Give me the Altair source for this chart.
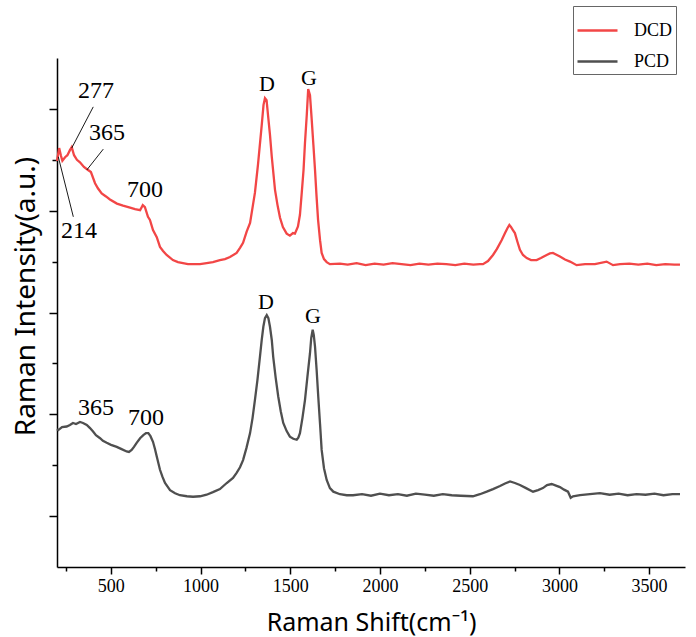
import altair as alt
import pandas as pd

# ---------------- data ----------------
dcd_shift = [200, 212, 222, 230, 245, 258, 272, 282, 295, 311, 328, 350, 373, 389, 412, 428, 449, 473, 495,
             534, 568, 607, 635, 663, 678, 690, 707, 718, 735, 756, 774, 791, 811, 846, 874, 902, 930, 958, 997,
             1034, 1069, 1108, 1136, 1164, 1201, 1220, 1237, 1257, 1276, 1292, 1303, 1320, 1341, 1351, 1359,
             1368, 1376, 1387, 1397, 1415, 1429, 1443, 1459, 1480, 1498, 1515, 1526, 1543, 1554, 1564, 1574,
             1582, 1592, 1600, 1610, 1619, 1629, 1638, 1646, 1655, 1666, 1675, 1688, 1703, 1721, 1777, 1820,
             1870, 1920, 1970, 2020, 2070, 2120, 2170, 2220, 2270, 2320, 2370, 2420, 2470, 2520, 2557, 2574,
             2602, 2630, 2652, 2678, 2697, 2711, 2721, 2730, 2741, 2752, 2766, 2780, 2797, 2818, 2842, 2873,
             2897, 2929, 2947, 2964, 2981, 3003, 3031, 3059, 3096, 3143, 3198, 3263, 3299, 3338, 3390, 3440,
             3490, 3540, 3590, 3640, 3672]
dcd_int = [7.98, 8.23, 8.08, 7.98, 8.05, 8.09, 8.19, 8.25, 8.09, 8.00, 7.95, 7.86, 7.80, 7.76, 7.54, 7.44, 7.34,
           7.28, 7.22, 7.14, 7.10, 7.06, 7.03, 7.01, 7.11, 7.07, 6.88, 6.82, 6.62, 6.48, 6.29, 6.21, 6.13, 6.03,
           5.99, 5.97, 5.95, 5.95, 5.95, 5.97, 5.99, 6.03, 6.05, 6.09, 6.17, 6.27, 6.37, 6.59, 6.76, 7.11, 7.35,
           7.90, 8.68, 9.08, 9.21, 9.17, 8.88, 8.49, 8.06, 7.41, 7.11, 6.86, 6.68, 6.55, 6.51, 6.56, 6.55, 6.69,
           6.92, 7.35, 7.80, 8.33, 8.88, 9.39, 9.27, 8.82, 8.29, 7.80, 7.31, 6.82, 6.42, 6.17, 6.05, 5.99, 5.95,
           5.96, 5.94, 5.97, 5.93, 5.96, 5.94, 5.97, 5.95, 5.93, 5.96, 5.94, 5.96, 5.95, 5.93, 5.96, 5.94, 5.95,
           5.95, 6.01, 6.13, 6.25, 6.42, 6.56, 6.66, 6.72, 6.68, 6.62, 6.56, 6.39, 6.23, 6.13, 6.07, 6.03, 6.03,
           6.07, 6.13, 6.16, 6.17, 6.14, 6.10, 6.04, 6.00, 5.93, 5.95, 5.95, 6.00, 5.93, 5.95, 5.96, 5.94, 5.96,
           5.93, 5.95, 5.94, 5.94]

pcd_shift = [200, 207, 228, 254, 272, 289, 306, 328, 345, 366, 384, 401, 417, 440, 456, 477, 501, 533, 557, 588,
             601, 616, 629, 644, 663, 681, 696, 709, 721, 735, 746, 756, 774, 788, 802, 830, 858, 885, 924, 958,
             997, 1034, 1069, 1108, 1146, 1181, 1201, 1220, 1237, 1256, 1276, 1290, 1303, 1317, 1331, 1341, 1350,
             1359, 1369, 1378, 1387, 1397, 1405, 1419, 1433, 1447, 1461, 1480, 1498, 1517, 1536, 1545, 1554,
             1568, 1582, 1596, 1610, 1617, 1625, 1631, 1638, 1647, 1656, 1666, 1675, 1688, 1703, 1721, 1740,
             1777, 1815, 1850, 1900, 1950, 2000, 2050, 2100, 2150, 2200, 2250, 2300, 2350, 2400, 2450, 2518,
             2557, 2595, 2630, 2669, 2697, 2725, 2752, 2780, 2814, 2853, 2881, 2908, 2931, 2957, 2981, 3003,
             3026, 3048, 3063, 3076, 3115, 3170, 3226, 3280, 3330, 3380, 3430, 3480, 3530, 3580, 3630, 3672]
pcd_int = [2.71, 2.69, 2.75, 2.76, 2.79, 2.83, 2.81, 2.85, 2.83, 2.79, 2.73, 2.66, 2.59, 2.53, 2.48, 2.44, 2.40,
           2.36, 2.32, 2.27, 2.26, 2.30, 2.36, 2.44, 2.53, 2.59, 2.63, 2.63, 2.57, 2.46, 2.32, 2.17, 1.91, 1.77,
           1.65, 1.51, 1.45, 1.41, 1.39, 1.38, 1.39, 1.42, 1.47, 1.53, 1.65, 1.75, 1.85, 1.96, 2.10, 2.34, 2.63,
           2.93, 3.28, 3.67, 4.13, 4.46, 4.72, 4.89, 4.95, 4.89, 4.72, 4.46, 4.13, 3.71, 3.35, 3.06, 2.83, 2.67,
           2.56, 2.52, 2.50, 2.54, 2.63, 2.93, 3.28, 3.75, 4.20, 4.50, 4.66, 4.56, 4.33, 3.87, 3.35, 2.81, 2.30,
           1.94, 1.71, 1.55, 1.48, 1.43, 1.41, 1.41, 1.43, 1.40, 1.44, 1.41, 1.43, 1.40, 1.44, 1.42, 1.40, 1.43,
           1.41, 1.40, 1.39, 1.43, 1.48, 1.53, 1.59, 1.64, 1.68, 1.65, 1.61, 1.55, 1.48, 1.51, 1.55, 1.61, 1.63,
           1.60, 1.57, 1.52, 1.48, 1.36, 1.39, 1.41, 1.43, 1.45, 1.42, 1.44, 1.41, 1.43, 1.42, 1.44, 1.41, 1.43,
           1.43]

series_names = ["DCD", "PCD"]
series_colors = ["#f24646", "#4f4f4f"]

# peak number annotations
num_text = ["277", "365", "700", "214", "365", "700"]
num_shift = [417, 479, 690, 323, 417, 696]
num_int = [9.35, 8.53, 7.41, 6.60, 3.12, 2.93]

# band annotations
band_text = ["D", "G", "D", "G"]
band_shift = [1370, 1604, 1365, 1627]
band_int = [9.49, 9.61, 5.21, 4.93]

# leader lines
lead_shift = [282, 366, 207]
lead_int = [8.23, 7.80, 8.06]
lead_shift2 = [402, 458, 291]
lead_int2 = [9.04, 8.21, 6.88]

x_ticks = [250, 500, 750, 1000, 1250, 1500, 1750, 2000, 2250, 2500, 2750, 3000, 3250, 3500]
y_ticks = [1, 2, 3, 4, 5, 6, 7, 8, 9]

# ---------------- tables ----------------
spec_df = pd.concat([
    pd.DataFrame({"shift": dcd_shift, "intensity": dcd_int, "sample": "DCD"}),
    pd.DataFrame({"shift": pcd_shift, "intensity": pcd_int, "sample": "PCD"}),
], ignore_index=True)
num_df = pd.DataFrame({"shift": num_shift, "intensity": num_int, "label": num_text})
band_df = pd.DataFrame({"shift": band_shift, "intensity": band_int, "label": band_text})
lead_df = pd.DataFrame({"shift": lead_shift, "intensity": lead_int,
                        "shift2": lead_shift2, "intensity2": lead_int2})

x_enc = alt.X("shift:Q", title="Raman Shift(cm⁻¹)",
              scale=alt.Scale(domain=[200, 3700], nice=False, zero=False),
              axis=alt.Axis(values=x_ticks,
                            labelExpr="datum.value % 500 === 0 ? datum.value : ''",
                            tickSize={"condition": {"test": "datum.value % 500 === 0", "value": 7}, "value": 4},
                            labelPadding=3, titleY=63, titleBaseline="alphabetic", titleFontSize=25))
y_enc = alt.Y("intensity:Q", title="Raman Intensity(a.u.)",
              scale=alt.Scale(domain=[0, 10], nice=False, zero=False),
              axis=alt.Axis(values=y_ticks, labels=False,
                            tickSize={"condition": {"test": "datum.value % 2 === 1", "value": 8}, "value": 5},
                            titleX=-31, titleY=238, titleBaseline="middle", titleAngle=-90,
                            titleFontSize=28))

lines = alt.Chart(spec_df).mark_line(strokeWidth=2.3).encode(
    x=x_enc, y=y_enc,
    color=alt.Color("sample:N",
                    scale=alt.Scale(domain=series_names, range=series_colors),
                    legend=alt.Legend(title=None, orient="none", legendX=516, legendY=-52,
                                      strokeColor="#666666", padding=3, fillColor="white",
                                      symbolType="stroke", symbolSize=1600, symbolStrokeWidth=2.5,
                                      labelFont="Liberation Serif", labelFontSize=18, labelColor="black",
                                      labelOffset=15, rowPadding=-9)),
)

leads = alt.Chart(lead_df).mark_rule(color="black", strokeWidth=0.9).encode(
    x=x_enc, y=y_enc, x2="shift2:Q", y2="intensity2:Q")

nums = alt.Chart(num_df).mark_text(font="Liberation Serif", fontSize=24, color="black",
                                   align="center", baseline="middle").encode(
    x=x_enc, y=y_enc, text="label:N")

bands = alt.Chart(band_df).mark_text(font="Liberation Serif", fontSize=22, color="black",
                                     align="center", baseline="middle").encode(
    x=x_enc, y=y_enc, text="label:N")

chart = alt.layer(lines, leads, nums, bands).properties(
    width=628, height=509,
    autosize=alt.AutoSizeParams(type="none"),
    padding={"left": 57, "top": 58, "right": 11, "bottom": 70},
).configure_view(stroke=None).configure_axis(
    grid=False, domainColor="black", domainWidth=1.5, tickColor="black", tickWidth=1.5,
    labelFont="Liberation Serif", labelFontSize=18, labelColor="black",
    titleFont="Noto Sans", titleFontSize=24, titleFontWeight="normal", titleColor="black",
)

chart.save("out.html", embed_options={"renderer": "svg", "actions": False})
